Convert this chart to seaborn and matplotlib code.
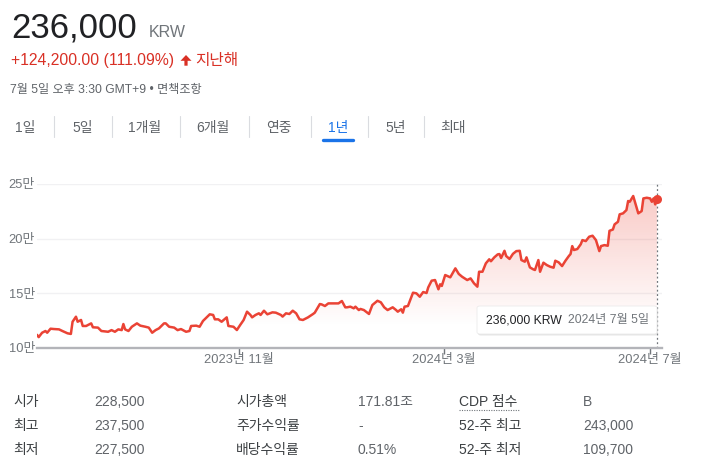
import matplotlib
matplotlib.use("Agg")
import matplotlib.pyplot as plt
from matplotlib.lines import Line2D
from matplotlib.patches import FancyBboxPatch, Polygon
import numpy as np
import pandas as pd
import seaborn as sns

# closing prices (KRW); days are offsets from 2023-07-05
start = "2023-07-05"
days = [0, 1, 3, 5, 6, 8, 10, 13, 15, 18, 20, 21, 23, 24, 26, 27, 29, 32, 33, 36,
        38, 42, 44, 46, 48, 50, 51, 52, 54, 56, 59, 61, 64, 66, 68, 70, 72, 75, 76, 78,
        81, 83, 85, 88, 90, 91, 94, 96, 98, 102, 104, 105, 107, 109, 112, 113, 116, 118,
        120, 122, 124, 126, 127, 129, 131, 132, 134, 136, 139, 141, 144, 145, 147, 149,
        151, 153, 155, 157, 160, 163, 164, 167, 168, 170, 172, 176, 178, 180, 182, 183,
        185, 187, 188, 190, 191, 193,
        196, 198, 201, 203, 205, 207, 210, 212, 213, 215, 216, 217, 219, 222, 224, 226,
        228, 230, 231, 233, 235, 237, 238, 239,
        241, 244, 245, 247, 249, 251, 254, 256, 258, 260, 261, 263, 265, 267, 268, 270,
        272, 273, 274, 276, 277, 279, 281, 283, 285, 286, 288, 289, 291, 293, 294, 296,
        297, 299, 301, 303, 305, 306, 308, 310, 312, 314, 315, 316, 317, 319, 321, 322,
        324, 326, 328, 330, 332, 333, 335, 337, 338, 340, 341, 343, 344, 346, 348, 349,
        350, 352, 353, 355, 357, 358, 360, 362,
        363, 364, 365, 366]
prices = [111800, 109700, 113700, 115300, 113700, 117400, 117100, 116800, 115300, 113200,
          112600, 123800, 128400, 123800, 125400, 119900, 119900, 122300, 118700, 118400,
          115300, 114600, 116100, 114600, 116800, 116100, 121700, 116800, 115300, 119200,
          122300, 120200, 119200, 118400, 113700, 116100, 117700, 122300, 122300, 119200,
          118400, 116100, 117100, 114600, 115300, 119900, 120200, 119200, 124500, 130600,
          130000, 126000, 126000, 123800, 127800, 119900, 119200, 116200,
          120900, 125400, 133000, 130000, 127800, 130000, 131500, 130000, 133900, 130600,
          132400, 132100, 130000, 128500, 131500, 130900, 133900, 131500, 126000, 125400,
          127800, 130900, 132100, 140000, 139700, 138200, 140600, 140600, 140600, 142800,
          137000, 137000, 137600, 136100, 137600, 134500, 135500, 134500,
          130900, 139100, 143000, 141600, 137000, 134500, 137000, 134500, 133000, 135200,
          132100, 137600, 138200, 150400, 149800, 146700, 151000, 150100, 155300, 161400,
          162000, 153500, 158100, 156600,
          166600, 164500, 167300, 172700, 167600, 165000, 162000, 163500, 159000, 155900,
          169600, 169600, 177300, 181000, 179200, 182800, 185500, 185800, 182200, 188800,
          184000, 181300, 186000, 188500, 188800, 180300, 178800, 182800, 173600, 171800,
          171200, 180300, 169600, 177900, 175700, 174200, 173300, 179700, 178200, 174800,
          179700, 184000, 185800, 193100, 189500, 190400, 194700, 198600, 197700, 201700,
          202600, 198600, 188500, 193100, 194000, 193400, 207100, 208300, 213000, 215400,
          222200, 223100, 226100, 234400, 233800, 239000, 233800, 223100, 225200, 236800,
          237400, 236800,
          233700, 236800, 231300, 236000]

y_ticks = [100000, 150000, 200000, 250000]
y_labels = ["10만", "15만", "20만", "25만"]
x_ticks = ["2023-11-01", "2024-03-01", "2024-07-01"]
x_labels = ["2023년 11월", "2024년 3월", "2024년 7월"]

tabs = ["1일", "5일", "1개월", "6개월", "연중", "1년", "5년", "최대"]
tab_x = [15, 72, 128, 196, 266, 328, 385, 440]
sep_x = [54, 112, 180, 249, 311, 368, 424]

stat_labels = [["시가", "최고", "최저"],
               ["시가총액", "주가수익률", "배당수익률"],
               ["CDP 점수", "52-주 최고", "52-주 최저"]]
stat_values = [["228,500", "237,500", "227,500"],
               ["171.81조", "-", "0.51%"],
               ["B", "243,000", "109,700"]]

df = pd.DataFrame({"date": pd.Timestamp(start) + pd.to_timedelta(days, unit="D"),
                   "price": prices})

RED = "#ea4335"
GRAY = "#70757a"

sns.set_theme(style="white")
plt.rcParams["font.family"] = ["Liberation Sans", "Noto Sans CJK KR", "DejaVu Sans"]

W, H = 715, 471
fig = plt.figure(figsize=(W / 100, H / 100), dpi=100)


def fx(px):
    return px / W


def fy(py):
    return 1 - py / H


ax = fig.add_axes([fx(37), fy(347.7), (662 - 37) / W, (347.7 - 184) / H])
sns.lineplot(data=df, x="date", y="price", ax=ax, color=RED, linewidth=1.8, zorder=4)

x0 = df["date"].iloc[0]
x1 = df["date"].iloc[-1] + pd.Timedelta(days=3)
ax.set_xlim(x0, x1)
ax.set_ylim(100000, 250000)

# gradient fill under the line
xl = ax.get_xlim()
vals = np.linspace(100000, 250000, 300)
alpha = np.clip(0.3 * (vals - 120000) / 130000, 0, 0.3)
img = np.zeros((300, 1, 4))
img[:, 0, 0], img[:, 0, 1], img[:, 0, 2] = 0.918, 0.263, 0.208
img[:, 0, 3] = alpha
poly = ax.fill_between(df["date"], df["price"], 100000, facecolor="none", edgecolor="none")
im = ax.imshow(img, extent=[xl[0], xl[1], 100000, 250000], origin="lower",
               aspect="auto", zorder=2)
im.set_clip_path(poly.get_paths()[0], transform=ax.transData)
ax.set_xlim(xl)
ax.set_ylim(100000, 250000)

# last point marker + dotted guide
last = df.iloc[-1]
ax.axvline(last["date"], color=GRAY, linestyle=(0, (1.5, 2)), linewidth=0.9, zorder=3)
ax.scatter([last["date"]], [last["price"]], s=42, color=RED, zorder=5, linewidths=0)

for sp in ["top", "right", "left"]:
    ax.spines[sp].set_visible(False)
ax.spines["bottom"].set_color("#b3b4b9")
ax.spines["bottom"].set_linewidth(1.7)
ax.spines["bottom"].set_zorder(6)

ax.set_yticks(y_ticks)
ax.set_yticklabels(y_labels)
ax.set_xticks(pd.to_datetime(x_ticks))
ax.set_xticklabels(x_labels)
ax.grid(axis="y", color="#f1f1f3", linewidth=1)
ax.grid(axis="x", visible=False)
ax.tick_params(axis="y", length=0, pad=1.5, labelsize=9.3, labelcolor=GRAY)
ax.tick_params(axis="x", bottom=True, direction="out", length=4, width=1, color=GRAY,
               pad=0.5, labelsize=9.3, labelcolor=GRAY)
ax.set_xlabel("")
ax.set_ylabel("")

# tooltip
shadow = FancyBboxPatch((fx(478), fy(335.5)), fx(180), (335.5 - 307.5) / H,
                        boxstyle="round,pad=0,rounding_size=0.004",
                        transform=fig.transFigure, facecolor="#c8c8c8", edgecolor="none",
                        alpha=0.45, zorder=7)
box = FancyBboxPatch((fx(477), fy(334)), fx(180), (334 - 306) / H,
                     boxstyle="round,pad=0,rounding_size=0.004",
                     transform=fig.transFigure, facecolor="white", edgecolor="#e8e8e8",
                     linewidth=0.5, zorder=8)
fig.add_artist(shadow)
fig.add_artist(box)
fig.text(fx(486), fy(323.5), "236,000 KRW", fontsize=8.8, color="#202124", zorder=9)
fig.text(fx(568), fy(323.5), "2024년 7월 5일", fontsize=8.8, color="#70757a", zorder=9)

# header
fig.text(fx(11), fy(37.3), "236,000", fontsize=25, color="#202124")
fig.text(fx(149), fy(36.7), "KRW", fontsize=11.5, color=GRAY)
fig.text(fx(11), fy(65), "+124,200.00 (111.09%)", fontsize=11.3, color="#d93025")
arrow = [(186, 55), (191.5, 60.8), (187.6, 60.8), (187.6, 65.7), (184.4, 65.7),
         (184.4, 60.8), (180.5, 60.8)]
fig.add_artist(Polygon([(fx(a), fy(b)) for a, b in arrow], closed=True,
                       transform=fig.transFigure, facecolor="#d93025", edgecolor="none"))
fig.text(fx(195), fy(65.5), "지난해", fontsize=11.3, color="#d93025")
fig.text(fx(10), fy(92.5), "7월 5일 오후 3:30 GMT+9 • 면책조항", fontsize=8.7, color="#5f6368")

for t, x in zip(tabs, tab_x):
    fig.text(fx(x), fy(131.7), t, fontsize=10,
             color="#1a73e8" if t == "1년" else "#5f6368")
for x in sep_x:
    fig.add_artist(Line2D([fx(x), fx(x)], [fy(116), fy(137)], color="#dadce0",
                          linewidth=0.8, transform=fig.transFigure))
fig.add_artist(Line2D([fx(323), fx(353)], [fy(139.5), fy(139.5)], color="#1a73e8",
                      linewidth=2.4, solid_capstyle="round", transform=fig.transFigure))

# stats table
col_label_x = [13, 236, 459]
col_value_x = [94, 358, 583]
row_y = [406, 430, 454]
for c in range(3):
    for r in range(3):
        fig.text(fx(col_label_x[c]), fy(row_y[r]), stat_labels[c][r], fontsize=10,
                 color="#3c4043")
        fig.text(fx(col_value_x[c]), fy(row_y[r]), stat_values[c][r], fontsize=10,
                 color="#5f6368")
fig.add_artist(Line2D([fx(459), fx(520)], [fy(410), fy(410)], color="#70757a",
                      linewidth=0.8, linestyle=(0, (1, 1.2)), transform=fig.transFigure))

fig.savefig("out.png", dpi=100, facecolor="white")
